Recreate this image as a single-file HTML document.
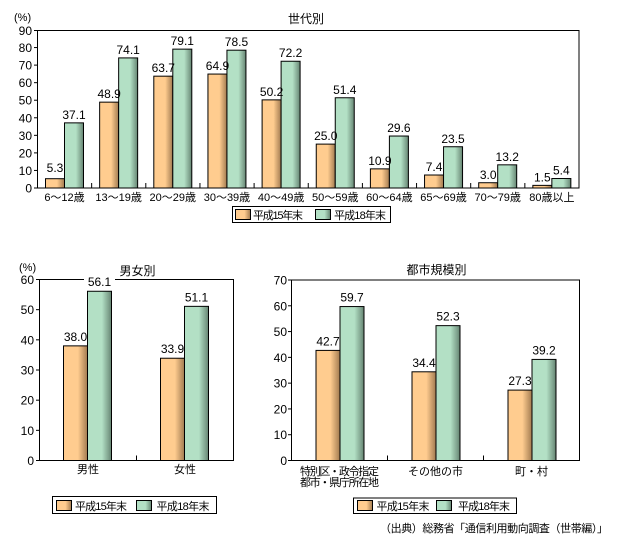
<!DOCTYPE html>
<html><head><meta charset="utf-8"><style>
html,body{margin:0;padding:0;background:#fff;}
svg{display:block;}
text{font-family:"Liberation Sans","Noto Sans CJK JP",sans-serif;fill:#000;}
.n{font-size:12px;}
.c{font-size:11px;}
.t{font-size:12px;}
</style></head><body>
<svg width="629" height="544" viewBox="0 0 629 544" xmlns="http://www.w3.org/2000/svg">
<defs>
<linearGradient id="go" x1="0" y1="0" x2="1" y2="0">
<stop offset="0" stop-color="#FFCC8F"/><stop offset="0.6" stop-color="#FFCC8F"/><stop offset="0.9" stop-color="#B98F60"/><stop offset="1" stop-color="#A07A50"/>
</linearGradient>
<linearGradient id="gg" x1="0" y1="0" x2="1" y2="0">
<stop offset="0" stop-color="#B3E0C5"/><stop offset="0.6" stop-color="#B3E0C5"/><stop offset="0.9" stop-color="#7A9C88"/><stop offset="1" stop-color="#62806E"/>
</linearGradient>
</defs>
<rect width="629" height="544" fill="#fff"/>

<!-- ===== TOP CHART ===== -->
<text class="t" x="306" y="23" text-anchor="middle">世代別</text>
<text class="c" x="14" y="21">(%)</text>
<rect x="37.5" y="30.5" width="541.5" height="157.5" fill="none" stroke="#000" stroke-width="1"/>
<g stroke="#000" stroke-width="1">
<line x1="34" y1="188" x2="37.5" y2="188"/><line x1="34" y1="170.44" x2="37.5" y2="170.44"/><line x1="34" y1="152.89" x2="37.5" y2="152.89"/><line x1="34" y1="135.33" x2="37.5" y2="135.33"/><line x1="34" y1="117.78" x2="37.5" y2="117.78"/><line x1="34" y1="100.22" x2="37.5" y2="100.22"/><line x1="34" y1="82.67" x2="37.5" y2="82.67"/><line x1="34" y1="65.11" x2="37.5" y2="65.11"/><line x1="34" y1="47.56" x2="37.5" y2="47.56"/><line x1="34" y1="30.5" x2="37.5" y2="30.5"/>
<line x1="91.65" y1="183" x2="91.65" y2="188"/><line x1="145.8" y1="183" x2="145.8" y2="188"/><line x1="199.95" y1="183" x2="199.95" y2="188"/><line x1="254.1" y1="183" x2="254.1" y2="188"/><line x1="308.25" y1="183" x2="308.25" y2="188"/><line x1="362.4" y1="183" x2="362.4" y2="188"/><line x1="416.55" y1="183" x2="416.55" y2="188"/><line x1="470.7" y1="183" x2="470.7" y2="188"/><line x1="524.85" y1="183" x2="524.85" y2="188"/>
</g>
<g class="n" text-anchor="end">
<text class="n" x="32" y="192.5">0</text><text class="n" x="32" y="175">10</text><text class="n" x="32" y="157.4">20</text><text class="n" x="32" y="139.8">30</text><text class="n" x="32" y="122.3">40</text><text class="n" x="32" y="104.7">50</text><text class="n" x="32" y="87.2">60</text><text class="n" x="32" y="69.6">70</text><text class="n" x="32" y="52.1">80</text><text class="n" x="32" y="35">90</text>
</g>
<g stroke="#000" stroke-width="1">
<rect x="45.5" y="178.7" width="19" height="9.3" fill="url(#go)"/><rect x="64.5" y="122.87" width="19" height="65.13" fill="url(#gg)"/>
<rect x="99.65" y="102.15" width="19" height="85.85" fill="url(#go)"/><rect x="118.65" y="57.91" width="19" height="130.09" fill="url(#gg)"/>
<rect x="153.8" y="76.17" width="19" height="111.83" fill="url(#go)"/><rect x="172.8" y="49.13" width="19" height="138.87" fill="url(#gg)"/>
<rect x="207.95" y="74.06" width="19" height="113.94" fill="url(#go)"/><rect x="226.95" y="50.19" width="19" height="137.81" fill="url(#gg)"/>
<rect x="262.1" y="99.87" width="19" height="88.13" fill="url(#go)"/><rect x="281.1" y="61.25" width="19" height="126.75" fill="url(#gg)"/>
<rect x="316.25" y="144.11" width="19" height="43.89" fill="url(#go)"/><rect x="335.25" y="97.76" width="19" height="90.24" fill="url(#gg)"/>
<rect x="370.4" y="168.86" width="19" height="19.14" fill="url(#go)"/><rect x="389.4" y="136.03" width="19" height="51.97" fill="url(#gg)"/>
<rect x="424.55" y="175.01" width="19" height="12.99" fill="url(#go)"/><rect x="443.55" y="146.74" width="19" height="41.26" fill="url(#gg)"/>
<rect x="478.7" y="182.73" width="19" height="5.27" fill="url(#go)"/><rect x="497.7" y="164.83" width="19" height="23.17" fill="url(#gg)"/>
<rect x="532.85" y="185.37" width="19" height="2.63" fill="url(#go)"/><rect x="551.85" y="178.52" width="19" height="9.48" fill="url(#gg)"/>
</g>
<g class="n" text-anchor="middle">
<text class="n" x="55" y="172">5.3</text><text class="n" x="74" y="119">37.1</text>
<text class="n" x="109.15" y="98">48.9</text><text class="n" x="128.15" y="54">74.1</text>
<text class="n" x="163.3" y="72">63.7</text><text class="n" x="182.3" y="45">79.1</text>
<text class="n" x="217.45" y="70">64.9</text><text class="n" x="236.45" y="46">78.5</text>
<text class="n" x="271.6" y="96">50.2</text><text class="n" x="290.6" y="57">72.2</text>
<text class="n" x="325.75" y="140">25.0</text><text class="n" x="344.75" y="94">51.4</text>
<text class="n" x="379.9" y="165">10.9</text><text class="n" x="398.9" y="132">29.6</text>
<text class="n" x="434.05" y="171">7.4</text><text class="n" x="453.05" y="143">23.5</text>
<text class="n" x="488.2" y="179">3.0</text><text class="n" x="507.2" y="161">13.2</text>
<text class="n" x="542.35" y="181.5">1.5</text><text class="n" x="561.35" y="174.5">5.4</text>
</g>
<g class="c" text-anchor="middle">
<text class="c" x="64.5" y="201">6～12歳</text><text class="c" x="118.65" y="201">13～19歳</text><text class="c" x="172.8" y="201">20～29歳</text><text class="c" x="226.95" y="201">30～39歳</text><text class="c" x="281.1" y="201">40～49歳</text><text class="c" x="335.25" y="201">50～59歳</text><text class="c" x="389.4" y="201">60～64歳</text><text class="c" x="443.55" y="201">65～69歳</text><text class="c" x="497.7" y="201">70～79歳</text><text class="c" x="551.85" y="201">80歳以上</text>
</g>
<rect x="232.5" y="206.5" width="158" height="16" fill="#fff" stroke="#000"/>
<rect x="235.5" y="209.5" width="15" height="10" fill="url(#go)" stroke="#000"/>
<text class="c" x="253" y="219" textLength="50" lengthAdjust="spacing">平成15年末</text>
<rect x="315.5" y="209.5" width="15" height="10" fill="url(#gg)" stroke="#000"/>
<text class="c" x="334" y="219" textLength="52" lengthAdjust="spacing">平成18年末</text>

<!-- ===== GENDER CHART ===== -->
<text class="t" x="137.5" y="275" text-anchor="middle">男女別</text>
<text class="c" x="19" y="271">(%)</text>
<rect x="39.5" y="279.5" width="194" height="181" fill="none" stroke="#000"/>
<g stroke="#000">
<line x1="36" y1="460.5" x2="39.5" y2="460.5"/><line x1="36" y1="430.33" x2="39.5" y2="430.33"/><line x1="36" y1="400.17" x2="39.5" y2="400.17"/><line x1="36" y1="370" x2="39.5" y2="370"/><line x1="36" y1="339.83" x2="39.5" y2="339.83"/><line x1="36" y1="309.67" x2="39.5" y2="309.67"/><line x1="36" y1="279.5" x2="39.5" y2="279.5"/>
<line x1="136.5" y1="455.5" x2="136.5" y2="460.5"/>
</g>
<g text-anchor="end">
<text class="n" x="34" y="465">0</text><text class="n" x="34" y="434.8">10</text><text class="n" x="34" y="404.7">20</text><text class="n" x="34" y="374.5">30</text><text class="n" x="34" y="344.3">40</text><text class="n" x="34" y="314.2">50</text><text class="n" x="34" y="284">60</text>
</g>
<g stroke="#000">
<rect x="63.5" y="345.87" width="24" height="114.63" fill="url(#go)"/><rect x="87.5" y="291.26" width="24" height="169.24" fill="url(#gg)"/>
<rect x="160.5" y="358.23" width="24" height="102.27" fill="url(#go)"/><rect x="184.5" y="306.35" width="24" height="154.15" fill="url(#gg)"/>
</g>
<rect x="84" y="277" width="31" height="5" fill="#fff"/>
<g text-anchor="middle">
<text class="n" x="75.5" y="341">38.0</text><text class="n" x="99.5" y="286">56.1</text>
<text class="n" x="172.5" y="353">33.9</text><text class="n" x="196.5" y="301.5">51.1</text>
<text class="c" x="88" y="473">男性</text><text class="c" x="185" y="473">女性</text>
</g>
<rect x="52.5" y="496.5" width="164" height="17" fill="#fff" stroke="#000"/>
<rect x="56.5" y="500.5" width="15" height="10" fill="url(#go)" stroke="#000"/>
<text class="c" x="75" y="510" textLength="52" lengthAdjust="spacing">平成15年末</text>
<rect x="136.5" y="500.5" width="15" height="10" fill="url(#gg)" stroke="#000"/>
<text class="c" x="156.5" y="510" textLength="53" lengthAdjust="spacing">平成18年末</text>

<!-- ===== CITY CHART ===== -->
<text class="t" x="436.5" y="274" text-anchor="middle">都市規模別</text>
<rect x="291.5" y="280" width="288" height="180.5" fill="none" stroke="#000"/>
<g stroke="#000">
<line x1="288" y1="460.5" x2="291.5" y2="460.5"/><line x1="288" y1="434.71" x2="291.5" y2="434.71"/><line x1="288" y1="408.93" x2="291.5" y2="408.93"/><line x1="288" y1="383.14" x2="291.5" y2="383.14"/><line x1="288" y1="357.36" x2="291.5" y2="357.36"/><line x1="288" y1="331.57" x2="291.5" y2="331.57"/><line x1="288" y1="305.79" x2="291.5" y2="305.79"/><line x1="288" y1="280" x2="291.5" y2="280"/>
<line x1="387.5" y1="455.5" x2="387.5" y2="460.5"/><line x1="483.5" y1="455.5" x2="483.5" y2="460.5"/>
</g>
<g text-anchor="end">
<text class="n" x="287" y="465">0</text><text class="n" x="287" y="439.2">10</text><text class="n" x="287" y="413.4">20</text><text class="n" x="287" y="387.6">30</text><text class="n" x="287" y="361.9">40</text><text class="n" x="287" y="336.1">50</text><text class="n" x="287" y="310.3">60</text><text class="n" x="287" y="284.5">70</text>
</g>
<g stroke="#000">
<rect x="316" y="350.4" width="24" height="110.1" fill="url(#go)"/><rect x="340" y="306.56" width="24" height="153.94" fill="url(#gg)"/>
<rect x="412" y="371.8" width="24" height="88.7" fill="url(#go)"/><rect x="436" y="325.64" width="24" height="134.86" fill="url(#gg)"/>
<rect x="508" y="390.1" width="24" height="70.4" fill="url(#go)"/><rect x="532" y="359.42" width="24" height="101.08" fill="url(#gg)"/>
</g>
<g text-anchor="middle">
<text class="n" x="328" y="345.5">42.7</text><text class="n" x="352" y="301.5">59.7</text>
<text class="n" x="424" y="367">34.4</text><text class="n" x="448" y="320.5">52.3</text>
<text class="n" x="520" y="385">27.3</text><text class="n" x="544" y="354.5">39.2</text>
<text class="c" x="339.5" y="475" textLength="79" lengthAdjust="spacing">特別区・政令指定</text>
<text class="c" x="339.5" y="486" textLength="79" lengthAdjust="spacing">都市・県庁所在地</text>
<text class="c" x="435.5" y="475">その他の市</text>
<text class="c" x="531.5" y="475">町・村</text>
</g>
<rect x="353.5" y="498" width="163" height="15.5" fill="#fff" stroke="#000"/>
<rect x="357.5" y="500.5" width="15" height="10" fill="url(#go)" stroke="#000"/>
<text class="c" x="376.5" y="510" textLength="53" lengthAdjust="spacing">平成15年末</text>
<rect x="436.5" y="500.5" width="15" height="10" fill="url(#gg)" stroke="#000"/>
<text class="c" x="458" y="510" textLength="52" lengthAdjust="spacing">平成18年末</text>

<text class="c" x="380" y="532" textLength="228" lengthAdjust="spacing">（出典）総務省「通信利用動向調査（世帯編）」</text>
</svg>
</body></html>
